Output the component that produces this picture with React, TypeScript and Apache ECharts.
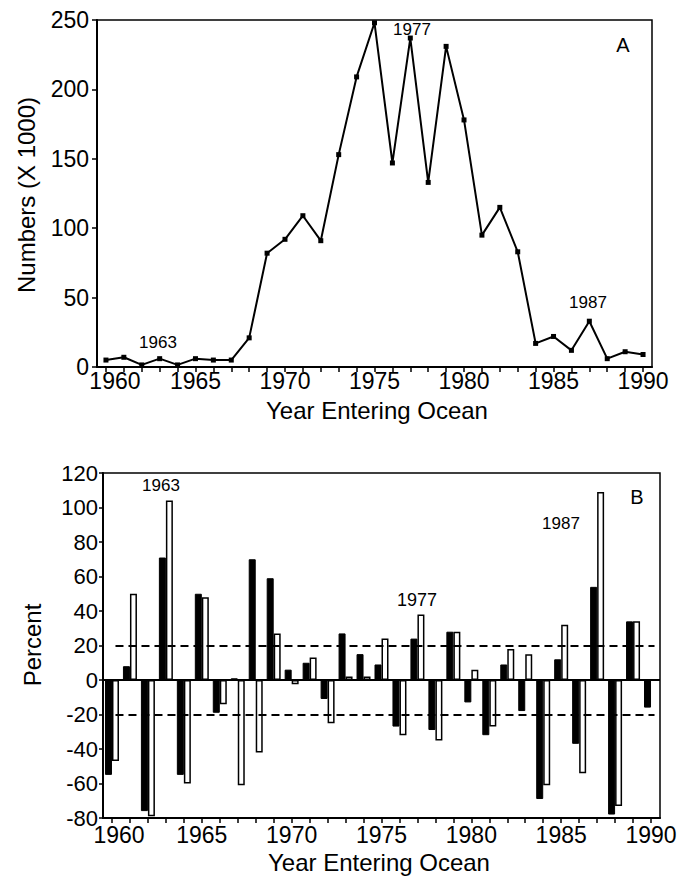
import React, { useEffect, useRef } from "react";
import * as echarts from "echarts";

const years = [
  "1960", "1961", "1962", "1963", "1964", "1965", "1966", "1967", "1968", "1969",
  "1970", "1971", "1972", "1973", "1974", "1975", "1976", "1977", "1978", "1979",
  "1980", "1981", "1982", "1983", "1984", "1985", "1986", "1987", "1988", "1989", "1990",
];

// Panel A: numbers (x 1000)
const numbers = [
  5, 7, 1.5, 6, 1.5, 6, 5, 5, 21, 82,
  92, 109, 91, 153, 209, 248, 147, 237, 133, 231,
  178, 95, 115, 83, 17, 22, 12, 33, 6, 11, 9,
];

// Panel B: percent (black and white bars)
const blackPct = [
  -55, 8, -76, 71, -55, 50, -19, 1, 70, 59,
  6, 10, -11, 27, 15, 9, -27, 24, -29, 28,
  -13, -32, 9, -18, -69, 12, -37, 54, -78, 34, -16,
];
const whitePct: (number | null)[] = [
  -47, 50, -79, 104, -60, 48, -14, -61, -42, 27,
  -2.5, 13, -25, 2, 2, 24, -32, 38, -35, 28,
  6, -27, 18, 15, -61, 32, -54, 109, -73, 34, null,
];

const thresholds = [20, -20];

const FONT = "'Liberation Sans', Arial, Helvetica, sans-serif";

export default function App() {
  const ref = useRef<HTMLDivElement>(null);

  useEffect(() => {
    if (!ref.current) return;
    const chart = echarts.init(ref.current, null, { renderer: "svg" });

    const txt = (text: string, x: number, y: number, size: number, rot = 0) => ({
      type: "text",
      x,
      y,
      rotation: rot,
      style: {
        text,
        fill: "#000",
        font: `${size}px ${FONT}`,
        align: "center",
        verticalAlign: "middle",
      },
      silent: true,
    });

    const xAxisCommon = (labelMargin: number, firstPad: number) => ({
      type: "category",
      data: years,
      boundaryGap: true,
      axisLine: { onZero: false, lineStyle: { color: "#000", width: 2 } },
      axisTick: {
        show: true,
        alignWithLabel: true,
        interval: 0,
        length: 5,
        lineStyle: { color: "#000", width: 1.5 },
      },
      axisLabel: {
        interval: 4,
        color: "#000",
        fontSize: 23,
        fontFamily: FONT,
        margin: labelMargin,
        formatter: (v: string, i: number) => (i === 0 ? `{f|${v}}` : v),
        rich: {
          f: {
            color: "#000",
            fontSize: 23,
            fontFamily: FONT,
            padding: [0, 0, 0, firstPad],
          },
        },
      },
      splitLine: { show: false },
    });

    const option: any = {
      animation: false,
      backgroundColor: "#fff",
      grid: [
        {
          left: 97,
          top: 20,
          right: 28,
          height: 347,
          show: true,
          borderColor: "#000",
          borderWidth: 1.5,
          containLabel: false,
        },
        {
          left: 103,
          top: 473,
          right: 20,
          height: 345,
          show: true,
          borderColor: "#000",
          borderWidth: 1.5,
          containLabel: false,
        },
      ],
      xAxis: [
        { ...xAxisCommon(2, 18), gridIndex: 0 },
        { ...xAxisCommon(5, 14), gridIndex: 1 },
      ],
      yAxis: [
        {
          type: "value",
          gridIndex: 0,
          min: 0,
          max: 250,
          interval: 50,
          axisLine: { show: true, lineStyle: { color: "#000", width: 2 } },
          axisTick: { show: true, length: 5, lineStyle: { color: "#000", width: 1.5 } },
          axisLabel: { color: "#000", fontSize: 23, fontFamily: FONT, margin: 8 },
          splitLine: { show: false },
        },
        {
          type: "value",
          gridIndex: 1,
          min: -80,
          max: 120,
          interval: 20,
          axisLine: { show: true, lineStyle: { color: "#000", width: 2 } },
          axisTick: { show: true, length: 4, lineStyle: { color: "#000", width: 1.5 } },
          axisLabel: { color: "#000", fontSize: 22, fontFamily: FONT, margin: 5 },
          splitLine: { show: false },
        },
      ],
      series: [
        {
          type: "line",
          xAxisIndex: 0,
          yAxisIndex: 0,
          data: numbers,
          symbol: "rect",
          symbolSize: 5,
          lineStyle: { color: "#000", width: 2 },
          itemStyle: { color: "#000" },
        },
        {
          type: "bar",
          xAxisIndex: 1,
          yAxisIndex: 1,
          data: blackPct,
          barWidth: 7,
          barGap: "0%",
          itemStyle: { color: "#000", borderColor: "#000", borderWidth: 1 },
          markLine: {
            silent: true,
            symbol: "none",
            label: { show: false },
            lineStyle: { color: "#000", width: 2, type: "solid" },
            data: [{ yAxis: 0 }],
          },
        },
        {
          type: "bar",
          xAxisIndex: 1,
          yAxisIndex: 1,
          data: whitePct,
          barWidth: 7,
          barGap: "0%",
          itemStyle: { color: "#fff", borderColor: "#000", borderWidth: 1.5 },
          markLine: {
            silent: true,
            symbol: "none",
            label: { show: false },
            lineStyle: { color: "#000", width: 2, type: [8, 5] },
            data: thresholds.map((t) => [
              { coord: [years[0], t] },
              { coord: [years[years.length - 1], t] },
            ]),
          },
        },
      ],
      graphic: [
        txt("Numbers (X 1000)", 26, 195, 24, Math.PI / 2),
        txt("Year Entering Ocean", 377, 410, 24),
        txt("Percent", 32, 645, 24, Math.PI / 2),
        txt("Year Entering Ocean", 379, 862, 24),
        txt("A", 623, 45, 20),
        txt("B", 637, 497, 20),
        txt("1963", 158, 342, 17),
        txt("1977", 412, 29, 17),
        txt("1987", 588, 302, 17),
        txt("1963", 161, 485, 17),
        txt("1977", 417, 600, 18),
        txt("1987", 561, 523, 17),
      ],
    };

    chart.setOption(option);
    return () => chart.dispose();
  }, []);

  return (
    <div
      ref={ref}
      style={{ position: "absolute", left: 0, top: 0, width: 680, height: 877, background: "#fff" }}
    />
  );
}
